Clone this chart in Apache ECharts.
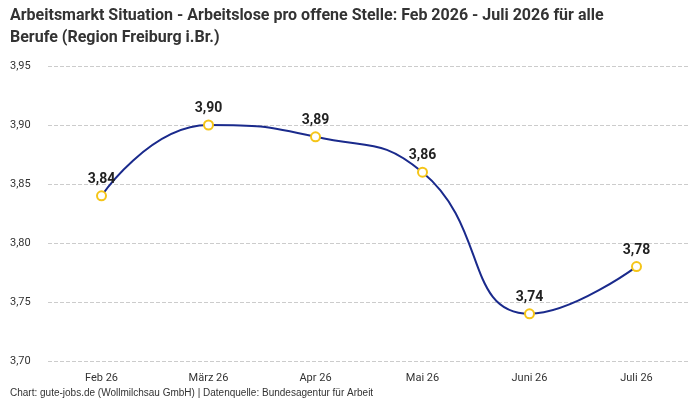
<!DOCTYPE html>
<html>
<head>
<meta charset="utf-8">
<script src="https://cdn.jsdelivr.net/npm/echarts@6/dist/echarts.min.js"></script>
<style>html,body{margin:0;padding:0;background:#fff}#main{width:700px;height:400px}</style>
</head>
<body>
<div id="main"></div>
<script>
var categories = ['Feb 26', 'März 26', 'Apr 26', 'Mai 26', 'Juni 26', 'Juli 26'];
var values = [3.84, 3.90, 3.89, 3.86, 3.74, 3.78];
var yTicks = [3.70, 3.75, 3.80, 3.85, 3.90, 3.95];

var fmt = function (v) { return v.toFixed(2).replace('.', ','); };

var myChart = echarts.init(document.getElementById('main'));
var option = {
    animation: false,
    textStyle: { fontFamily: 'Roboto, sans-serif' },
    title: {
        text: 'Arbeitsmarkt Situation - Arbeitslose pro offene Stelle: Feb 2026 - Juli 2026 für alle\nBerufe (Region Freiburg i.Br.)',
        left: 5, top: 0,
        textStyle: { fontSize: 16, fontWeight: 'bold', color: '#333', lineHeight: 22 }
    },
    graphic: [{
        type: 'text', left: 10, top: 388,
        style: { text: 'Chart: gute-jobs.de (Wollmilchsau GmbH) | Datenquelle: Bundesagentur für Arbeit', fontSize: 10, fill: '#333' }
    }],
    grid: { left: 48, right: 10, top: 66, bottom: 39 },
    xAxis: {
        type: 'category',
        data: categories,
        axisLine: { show: false },
        axisTick: { show: false },
        axisLabel: { color: '#333', fontSize: 11, margin: 12 }
    },
    yAxis: {
        type: 'value',
        min: yTicks[0], max: yTicks[yTicks.length - 1], interval: 0.05,
        axisLabel: { color: '#333', fontSize: 11, formatter: fmt, align: 'left', margin: 38 },
        splitLine: { lineStyle: { type: 'dashed', color: '#ccc' } }
    },
    series: [{
        type: 'line',
        data: values,
        smooth: true,
        symbol: 'circle',
        symbolSize: 9,
        lineStyle: { color: '#1a2a8c', width: 2 },
        itemStyle: { color: '#fff', borderColor: '#f5c518', borderWidth: 2 },
        label: {
            show: true, position: 'top', distance: 4,
            fontSize: 14, fontWeight: 'bold', color: '#222',
            formatter: function (p) { return fmt(p.value); }
        }
    }]
};
myChart.setOption(option);
</script>
</body>
</html>
